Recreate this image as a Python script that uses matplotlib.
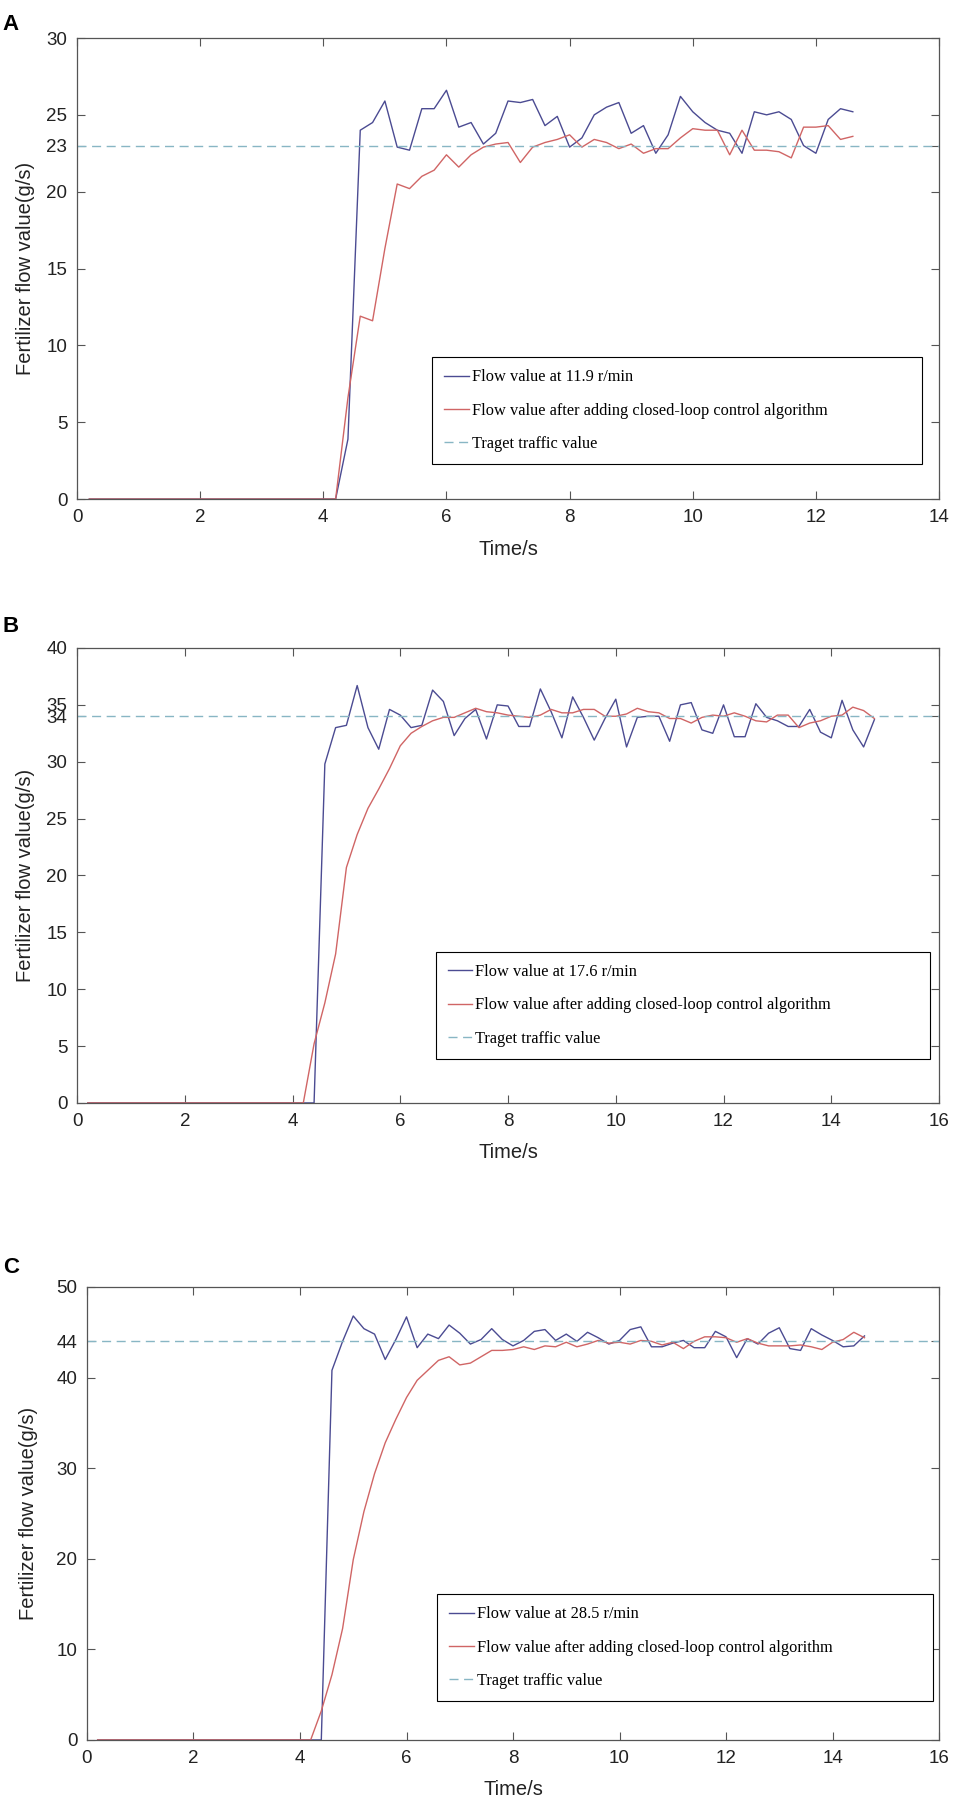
import matplotlib
matplotlib.use("Agg")
import matplotlib.pyplot as plt

# ---- panel A : 11.9 r/min, target 23 g/s
time_a = [0.2, 4.2, 4.4, 4.6, 4.8, 5.0, 5.2, 5.4, 5.6, 5.8, 6.0, 6.2, 6.4, 6.6, 6.8,
          7.0, 7.2, 7.4, 7.6, 7.8, 8.0, 8.2, 8.4, 8.6, 8.8, 9.0, 9.2, 9.4, 9.6, 9.8,
          10.0, 10.2, 10.4, 10.6, 10.8, 11.0, 11.2, 11.4, 11.6, 11.8, 12.0, 12.2, 12.4, 12.6]
flow_a = [0, 0, 3.9, 24.0, 24.5, 25.9, 22.9, 22.7, 25.4, 25.4, 26.6, 24.2, 24.5, 23.1, 23.8,
          25.9, 25.8, 26.0, 24.3, 24.9, 22.9, 23.5, 25.0, 25.5, 25.8, 23.8, 24.3, 22.5, 23.7, 26.2,
          25.2, 24.5, 24.0, 23.8, 22.5, 25.2, 25.0, 25.2, 24.7, 23.0, 22.5, 24.7, 25.4, 25.2]
closed_a = [0, 0, 6.6, 11.9, 11.6, 16.3, 20.5, 20.2, 21.0, 21.4, 22.4, 21.6, 22.4, 22.9, 23.1,
            23.2, 21.9, 22.9, 23.2, 23.4, 23.7, 22.9, 23.4, 23.2, 22.8, 23.1, 22.5, 22.8, 22.8, 23.5,
            24.1, 24.0, 24.0, 22.4, 24.0, 22.7, 22.7, 22.6, 22.2, 24.2, 24.2, 24.3, 23.4, 23.6]
target_a = 23
yticks_a = [0, 5, 10, 15, 20, 23, 25, 30]

# ---- panel B : 17.6 r/min, target 34 g/s
time_b = [0.2, 4.2, 4.4, 4.6, 4.8, 5.0, 5.2, 5.4, 5.6, 5.8, 6.0, 6.2, 6.4, 6.6, 6.8,
          7.0, 7.2, 7.4, 7.6, 7.8, 8.0, 8.2, 8.4, 8.6, 8.8, 9.0, 9.2, 9.4, 9.6, 9.8,
          10.0, 10.2, 10.4, 10.6, 10.8, 11.0, 11.2, 11.4, 11.6, 11.8, 12.0, 12.2, 12.4, 12.6, 12.8,
          13.0, 13.2, 13.4, 13.6, 13.8, 14.0, 14.2, 14.4, 14.6, 14.8]
flow_b = [0, 0, 0, 29.8, 33.0, 33.2, 36.7, 33.0, 31.1, 34.6, 34.1, 33.0, 33.2, 36.3, 35.3,
          32.3, 33.8, 34.6, 32.0, 35.0, 34.9, 33.1, 33.1, 36.4, 34.4, 32.1, 35.7, 33.9, 31.9, 33.8,
          35.5, 31.3, 33.9, 34.0, 34.0, 31.8, 35.0, 35.2, 32.8, 32.5, 35.0, 32.2, 32.2, 35.1, 33.9,
          33.6, 33.1, 33.1, 34.6, 32.6, 32.1, 35.4, 32.8, 31.3, 33.7]
closed_b = [0, 0, 5.2, 8.8, 13.1, 20.7, 23.6, 25.9, 27.6, 29.4, 31.4, 32.5, 33.1, 33.6, 33.9,
            33.9, 34.3, 34.7, 34.4, 34.3, 34.1, 34.0, 33.9, 34.1, 34.6, 34.3, 34.3, 34.6, 34.6, 34.0,
            34.0, 34.2, 34.7, 34.4, 34.3, 33.8, 33.8, 33.4, 33.9, 34.1, 34.0, 34.3, 34.0, 33.6, 33.5,
            34.1, 34.1, 33.0, 33.4, 33.6, 34.0, 34.1, 34.8, 34.5, 33.8]
target_b = 34
yticks_b = [0, 5, 10, 15, 20, 25, 30, 34, 35, 40]

# ---- panel C : 28.5 r/min, target 44 g/s
time_c = [0.2, 4.2, 4.4, 4.6, 4.8, 5.0, 5.2, 5.4, 5.6, 5.8, 6.0, 6.2, 6.4, 6.6, 6.8,
          7.0, 7.2, 7.4, 7.6, 7.8, 8.0, 8.2, 8.4, 8.6, 8.8, 9.0, 9.2, 9.4, 9.6, 9.8,
          10.0, 10.2, 10.4, 10.6, 10.8, 11.0, 11.2, 11.4, 11.6, 11.8, 12.0, 12.2, 12.4, 12.6, 12.8,
          13.0, 13.2, 13.4, 13.6, 13.8, 14.0, 14.2, 14.4, 14.6]
flow_c = [0, 0, 0, 40.8, 44.0, 46.8, 45.4, 44.8, 42.0, 44.2, 46.7, 43.3, 44.8, 44.3, 45.8,
          44.9, 43.7, 44.2, 45.4, 44.2, 43.5, 44.1, 45.1, 45.3, 44.1, 44.8, 44.0, 45.0, 44.4, 43.7,
          44.1, 45.3, 45.6, 43.4, 43.4, 43.8, 44.1, 43.3, 43.3, 45.1, 44.5, 42.2, 44.3, 43.7, 44.9,
          45.5, 43.2, 43.0, 45.4, 44.7, 44.1, 43.4, 43.5, 44.6]
closed_c = [0, 0, 3.2, 7.2, 12.3, 19.9, 25.2, 29.4, 32.8, 35.4, 37.8, 39.7, 40.8, 41.9, 42.3,
            41.4, 41.6, 42.3, 43.0, 43.0, 43.1, 43.4, 43.1, 43.5, 43.4, 43.9, 43.4, 43.7, 44.1, 43.8,
            43.9, 43.7, 44.1, 44.0, 43.6, 43.9, 43.2, 44.0, 44.5, 44.5, 44.4, 43.9, 44.3, 43.8, 43.5,
            43.5, 43.5, 43.6, 43.4, 43.1, 43.9, 44.2, 45.0, 44.4]
target_c = 44
yticks_c = [0, 10, 20, 30, 40, 44, 50]

blue = '#4b4b92'
red = '#d06565'
teal = '#88b6c4'
sans = ['Liberation Sans', 'DejaVu Sans']
serif = ['Liberation Serif', 'DejaVu Serif']

fig = plt.figure(figsize=(9.58, 18.01), dpi=100)

panels = [
    # letter, axes rect, time, flow, closed, target, speed, xmax, ymax, yticks, legend box, ylabel x, letter y
    ('A', [0.0804, 0.7229, 0.8998, 0.2560], time_a, flow_a, closed_a, target_a, '11.9',
     14, 30, yticks_a, (0.412, 0.308, 0.568), -0.060, 0.992),
    ('B', [0.0804, 0.3876, 0.8998, 0.2526], time_b, flow_b, closed_b, target_b, '17.6',
     16, 40, yticks_b, (0.416, 0.332, 0.574), -0.060, 0.658),
    ('C', [0.0908, 0.0339, 0.8894, 0.2515], time_c, flow_c, closed_c, target_c, '28.5',
     16, 50, yticks_c, (0.411, 0.322, 0.582), -0.069, 0.302),
]

for letter, rect, t, f, c, target, speed, xmax, ymax, yt, lg, ylx, ly in panels:
    ax = fig.add_axes(rect)
    ax.plot(t, f, color=blue, lw=1.0, label='Flow value at %s r/min' % speed)
    ax.plot(t, c, color=red, lw=1.0,
            label='Flow value after adding closed-loop control algorithm')
    ax.axhline(target, color=teal, lw=1.0, dashes=(6.5, 4), label='Traget traffic value')

    ax.set_xlim(0, xmax)
    ax.set_ylim(0, ymax)
    ax.set_xticks(range(0, xmax + 1, 2))
    ax.set_yticks(yt)
    ax.tick_params(direction='in', length=5.5, width=0.8, top=True, right=True,
                   labelsize=13.5, colors='#555555', labelcolor='#222222', pad=7)
    for lab in ax.get_xticklabels() + ax.get_yticklabels():
        lab.set_family(sans)
    for sp in ax.spines.values():
        sp.set_color('#555555')
        sp.set_linewidth(0.9)

    ax.set_xlabel('Time/s', fontsize=14.5, family=sans, color='#222222')
    ax.xaxis.set_label_coords(0.5, -0.11)
    ax.xaxis.label.set_va('center')
    ax.set_ylabel('Fertilizer flow value(g/s)', fontsize=14.5, family=sans, color='#222222')
    ax.yaxis.set_label_coords(ylx, 0.5)
    ax.yaxis.label.set_va('center')

    leg = ax.legend(loc='upper left', bbox_to_anchor=(lg[0], lg[1], lg[2], 0), mode='expand',
                    prop={'family': serif, 'size': 11.8}, frameon=True, fancybox=False,
                    edgecolor='black', framealpha=1, borderpad=0.75, labelspacing=1.05,
                    handlelength=1.5, handletextpad=0.15, borderaxespad=0)
    leg.get_frame().set_linewidth(0.8)

    fig.text(0.003, ly, letter, fontsize=16, fontweight='bold', family=sans, va='top', ha='left')

fig.savefig('out.png', dpi=100)
